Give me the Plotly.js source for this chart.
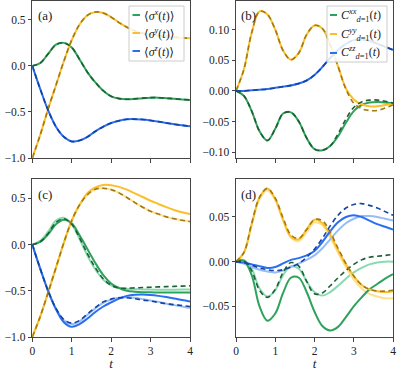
<!DOCTYPE html>
<html>
<head>
<meta charset="utf-8">
<script src="https://cdn.plot.ly/plotly-3.0.1.min.js"></script>
<style>
  html, body { margin: 0; padding: 0; background: #fff; }
  #chart { width: 397px; height: 371px; }
</style>
</head>
<body>
<div id="chart"></div>
<script>
// time grid shared by every curve
const tGrid = [0, 0.2, 0.4, 0.6, 0.8, 1.0, 1.2, 1.4, 1.6, 1.8, 2.0, 2.2, 2.4, 2.6, 2.8, 3.0, 3.2, 3.4, 3.6, 3.8, 4.0];
const tTicks = [0, 1, 2, 3, 4];

// (a) single-site expectations
const aSx = [0, 0.03, 0.13, 0.23, 0.25, 0.2, 0.07, -0.07, -0.18, -0.27, -0.33, -0.355, -0.362, -0.358, -0.35, -0.345, -0.345, -0.35, -0.357, -0.364, -0.37];
const aSy = [-1.0, -0.75, -0.47, -0.21, 0.05, 0.28, 0.45, 0.55, 0.585, 0.575, 0.53, 0.47, 0.42, 0.38, 0.355, 0.34, 0.33, 0.32, 0.312, 0.305, 0.30];
const aSz = [0, -0.25, -0.48, -0.66, -0.77, -0.82, -0.81, -0.77, -0.71, -0.66, -0.62, -0.595, -0.58, -0.578, -0.582, -0.592, -0.605, -0.62, -0.633, -0.645, -0.655];

// (b) nearest-neighbour correlators
const bCxx = [0, -0.008, -0.033, -0.066, -0.081, -0.062, -0.037, -0.035, -0.05, -0.077, -0.095, -0.097, -0.09, -0.074, -0.052, -0.033, -0.023, -0.019, -0.018, -0.019, -0.02];
const bCxxD = [0, -0.008, -0.033, -0.066, -0.081, -0.062, -0.037, -0.035, -0.05, -0.077, -0.095, -0.097, -0.09, -0.07, -0.046, -0.027, -0.018, -0.015, -0.015, -0.017, -0.02];
const bCyy = [0, 0.035, 0.095, 0.13, 0.125, 0.1, 0.066, 0.051, 0.062, 0.092, 0.107, 0.102, 0.075, 0.04, 0.004, -0.014, -0.022, -0.025, -0.025, -0.023, -0.021];
const bCyyD = [0, 0.035, 0.095, 0.13, 0.125, 0.1, 0.066, 0.051, 0.062, 0.092, 0.107, 0.102, 0.075, 0.04, 0.003, -0.02, -0.029, -0.032, -0.032, -0.028, -0.023];
const bCzz = [0, 0, 0.001, 0.002, 0.003, 0.005, 0.007, 0.009, 0.012, 0.017, 0.026, 0.039, 0.054, 0.067, 0.077, 0.083, 0.084, 0.082, 0.077, 0.072, 0.067];

// (c) bright / pale / dashed variants
const cSx = [0, 0.03, 0.11, 0.22, 0.27, 0.23, 0.1, -0.05, -0.2, -0.33, -0.42, -0.47, -0.5, -0.51, -0.515, -0.517, -0.518, -0.518, -0.518, -0.518, -0.518];
const cSxP = [0, 0.04, 0.14, 0.26, 0.29, 0.22, 0.06, -0.12, -0.27, -0.38, -0.44, -0.47, -0.478, -0.482, -0.485, -0.487, -0.488, -0.488, -0.488, -0.487, -0.485];
const cSxD = [0, 0.03, 0.12, 0.24, 0.28, 0.22, 0.07, -0.1, -0.25, -0.37, -0.44, -0.47, -0.472, -0.468, -0.465, -0.461, -0.458, -0.455, -0.452, -0.449, -0.446];
const cSy = [-1.0, -0.78, -0.52, -0.25, 0.02, 0.26, 0.43, 0.56, 0.62, 0.645, 0.643, 0.625, 0.595, 0.555, 0.515, 0.475, 0.44, 0.405, 0.375, 0.35, 0.33];
const cSyP = [-1.0, -0.78, -0.52, -0.25, 0.02, 0.26, 0.43, 0.54, 0.6, 0.61, 0.595, 0.56, 0.51, 0.455, 0.405, 0.36, 0.33, 0.3, 0.28, 0.263, 0.25];
const cSyD = [-1.0, -0.78, -0.52, -0.25, 0.02, 0.26, 0.43, 0.54, 0.6, 0.61, 0.595, 0.56, 0.51, 0.455, 0.405, 0.36, 0.33, 0.3, 0.28, 0.263, 0.25];
const cSz = [0, -0.26, -0.5, -0.7, -0.84, -0.89, -0.86, -0.8, -0.73, -0.67, -0.625, -0.585, -0.555, -0.543, -0.54, -0.545, -0.555, -0.568, -0.583, -0.6, -0.615];
const cSzP = [0, -0.26, -0.5, -0.69, -0.82, -0.86, -0.83, -0.76, -0.69, -0.63, -0.595, -0.575, -0.57, -0.575, -0.59, -0.605, -0.62, -0.64, -0.655, -0.67, -0.687];
const cSzD = [0, -0.26, -0.5, -0.69, -0.81, -0.85, -0.82, -0.75, -0.68, -0.62, -0.59, -0.575, -0.575, -0.585, -0.6, -0.61, -0.625, -0.64, -0.65, -0.66, -0.67];

// (d)
const dCxx = [0, 0.001, -0.015, -0.05, -0.066, -0.058, -0.035, -0.018, -0.018, -0.034, -0.056, -0.072, -0.077, -0.073, -0.062, -0.05, -0.04, -0.031, -0.025, -0.019, -0.014];
const dCxxP = [0, 0.002, -0.008, -0.03, -0.039, -0.032, -0.015, -0.005, -0.008, -0.022, -0.034, -0.038, -0.034, -0.027, -0.019, -0.012, -0.007, -0.003, -0.001, 0, 0];
const dCxxD = [0, 0.001, -0.01, -0.032, -0.04, -0.031, -0.012, -0.001, -0.005, -0.022, -0.036, -0.035, -0.027, -0.018, -0.01, -0.003, 0.002, 0.005, 0.006, 0.007, 0.008];
const dCyy = [0, 0.01, 0.042, 0.072, 0.082, 0.07, 0.047, 0.028, 0.025, 0.036, 0.047, 0.043, 0.03, 0.013, -0.003, -0.016, -0.026, -0.031, -0.033, -0.034, -0.033];
const dCyyP = [0, 0.01, 0.041, 0.07, 0.08, 0.069, 0.046, 0.027, 0.023, 0.033, 0.044, 0.041, 0.027, 0.01, -0.006, -0.02, -0.03, -0.036, -0.039, -0.041, -0.041];
const dCyyD = [0, 0.01, 0.043, 0.072, 0.082, 0.071, 0.049, 0.03, 0.026, 0.036, 0.047, 0.046, 0.033, 0.015, -0.002, -0.016, -0.026, -0.031, -0.033, -0.033, -0.032];
const dCzz = [0, -0.001, -0.003, -0.005, -0.007, -0.006, -0.002, 0.002, 0.004, 0.007, 0.012, 0.022, 0.034, 0.044, 0.05, 0.052, 0.05, 0.046, 0.042, 0.039, 0.036];
const dCzzP = [0, -0.002, -0.006, -0.009, -0.011, -0.012, -0.01, -0.006, -0.002, 0.002, 0.007, 0.015, 0.025, 0.035, 0.043, 0.048, 0.051, 0.051, 0.05, 0.048, 0.046];
const dCzzD = [0, -0.001, -0.004, -0.007, -0.009, -0.01, -0.009, -0.006, -0.002, 0.005, 0.014, 0.026, 0.04, 0.052, 0.06, 0.064, 0.065, 0.063, 0.06, 0.056, 0.052];

const legendA = ['⟨<i>σ</i><sup><i>x</i></sup>(<i>t</i>)⟩', '⟨<i>σ</i><sup><i>y</i></sup>(<i>t</i>)⟩', '⟨<i>σ</i><sup><i>z</i></sup>(<i>t</i>)⟩'];
const legendB = ['<i>C</i><sup><i>xx</i></sup><sub><i>d</i>=1</sub>(<i>t</i>)', '<i>C</i><sup><i>yy</i></sup><sub><i>d</i>=1</sub>(<i>t</i>)', '<i>C</i><sup><i>zz</i></sup><sub><i>d</i>=1</sub>(<i>t</i>)'];

const green = '#2ea25c', yellow = '#fcbf2a', blue = '#2a6ef2';
const greenD = '#1f5f34', yellowD = '#a07a14', blueD = '#15439e';
const greenP = '#88dbb0', yellowP = '#ffe08c', blueP = '#95bdf8';
const serif = 'Liberation Serif, DejaVu Serif, serif';

const W = 397, H = 371;
const px = x => x / W;
const py = y => 1 - y / H;

function curve(xa, ya, y, color, dash) {
    return {
        x: tGrid, y: y, xaxis: xa, yaxis: ya, mode: 'lines',
        line: { color: color, width: dash ? 1.6 : 2, dash: dash || 'solid', shape: 'spline' },
        showlegend: false, hoverinfo: 'skip'
    };
}
const dashed = '5px,3.5px';

var traces = [
    curve('x', 'y', aSx, green), curve('x', 'y', aSy, yellow), curve('x', 'y', aSz, blue),
    curve('x', 'y', aSx, greenD, dashed), curve('x', 'y', aSy, yellowD, dashed), curve('x', 'y', aSz, blueD, dashed),

    curve('x2', 'y2', bCxx, green), curve('x2', 'y2', bCyy, yellow), curve('x2', 'y2', bCzz, blue),
    curve('x2', 'y2', bCxxD, greenD, dashed), curve('x2', 'y2', bCyyD, yellowD, dashed), curve('x2', 'y2', bCzz, blueD, dashed),

    curve('x3', 'y3', cSxP, greenP), curve('x3', 'y3', cSyP, yellowP), curve('x3', 'y3', cSzP, blueP),
    curve('x3', 'y3', cSx, green), curve('x3', 'y3', cSy, yellow), curve('x3', 'y3', cSz, blue),
    curve('x3', 'y3', cSxD, greenD, dashed), curve('x3', 'y3', cSyD, yellowD, dashed), curve('x3', 'y3', cSzD, blueD, dashed),

    curve('x4', 'y4', dCxxP, greenP), curve('x4', 'y4', dCyyP, yellowP), curve('x4', 'y4', dCzzP, blueP),
    curve('x4', 'y4', dCxx, green), curve('x4', 'y4', dCyy, yellow), curve('x4', 'y4', dCzz, blue),
    curve('x4', 'y4', dCxxD, greenD, dashed), curve('x4', 'y4', dCyyD, yellowD, dashed), curve('x4', 'y4', dCzzD, blueD, dashed)
];

function axis(extra) {
    return Object.assign({
        showline: true, mirror: true, linecolor: '#444', linewidth: 1,
        ticks: 'outside', ticklen: 3.5, tickwidth: 1, tickcolor: '#444',
        showgrid: false, zeroline: false,
        tickfont: { family: serif, size: 11.5, color: '#222' }
    }, extra);
}
const xTop = { tickvals: tTicks, range: [0, 4], showticklabels: false };
const xBot = { tickvals: tTicks, range: [0, 4], title: { text: '<i>t</i>', font: { family: serif, size: 13, color: '#222' }, standoff: 3 } };

var shapes = [], annotations = [];
function legendBox(x0, y0, x1, y1, rowsY, sx0, sx1, tx, labels) {
    shapes.push({ type: 'rect', xref: 'paper', yref: 'paper', x0: px(x0), x1: px(x1), y0: py(y0), y1: py(y1),
        line: { color: '#cccccc', width: 1 }, fillcolor: 'rgba(255,255,255,0.85)', layer: 'above' });
    [green, yellow, blue].forEach(function (c, i) {
        shapes.push({ type: 'line', xref: 'paper', yref: 'paper', x0: px(sx0), x1: px(sx1), y0: py(rowsY[i]), y1: py(rowsY[i]),
            line: { color: c, width: 2 }, layer: 'above' });
        annotations.push({ xref: 'paper', yref: 'paper', x: px(tx), y: py(rowsY[i]), xanchor: 'left', yanchor: 'middle',
            text: labels[i], showarrow: false, font: { family: serif, size: 12, color: '#222' } });
    });
}
legendBox(129, 6, 184, 61, [15, 33, 51], 132.5, 140, 142, legendA);
legendBox(327, 6, 387, 62, [15, 34, 53], 330, 337, 338.5, legendB);

[['(a)', 45, 15], ['(b)', 248, 15], ['(c)', 45, 195], ['(d)', 248, 195]].forEach(function (p) {
    annotations.push({ xref: 'paper', yref: 'paper', x: px(p[1]), y: py(p[2]), xanchor: 'center', yanchor: 'middle',
        text: p[0], showarrow: false, font: { family: serif, size: 13, color: '#222' } });
});

var layout = {
    width: W, height: H,
    margin: { l: 0, r: 0, t: 0, b: 0 },
    paper_bgcolor: '#fff', plot_bgcolor: '#fff',
    showlegend: false,
    xaxis: axis(Object.assign({ domain: [px(32.3), px(190)], anchor: 'y' }, xTop)),
    yaxis: axis({ domain: [py(158), py(0.5)], anchor: 'x', range: [-1.0, 0.71], tickvals: [-1.0, -0.5, 0, 0.5], tickformat: '.1f' }),
    xaxis2: axis(Object.assign({ domain: [px(236), px(393)], anchor: 'y2' }, xTop)),
    yaxis2: axis({ domain: [py(158), py(0.5)], anchor: 'x2', range: [-0.1096, 0.1477], tickvals: [-0.1, -0.05, 0, 0.05, 0.1], tickformat: '.2f' }),
    xaxis3: axis(Object.assign({ domain: [px(32.3), px(190)], anchor: 'y3' }, xBot)),
    yaxis3: axis({ domain: [py(337), py(179)], anchor: 'x3', range: [-1.0, 0.71], tickvals: [-1.0, -0.5, 0, 0.5], tickformat: '.1f' }),
    xaxis4: axis(Object.assign({ domain: [px(236), px(393)], anchor: 'y4' }, xBot)),
    yaxis4: axis({ domain: [py(337), py(179)], anchor: 'x4', range: [-0.0843, 0.0925], tickvals: [-0.05, 0, 0.05], tickformat: '.2f' }),
    shapes: shapes,
    annotations: annotations
};

Plotly.newPlot('chart', traces, layout, { staticPlot: true, displayModeBar: false });
</script>
</body>
</html>
